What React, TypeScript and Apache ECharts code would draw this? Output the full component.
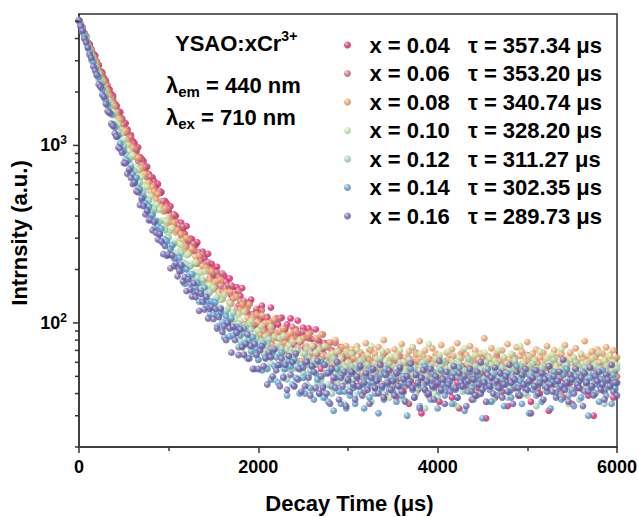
import React, { useEffect, useRef } from 'react';
import * as echarts from 'echarts';

const FONT = "'Liberation Sans', Arial, Helvetica, sans-serif";
const AXIS = '#333333';
const TIME_STEP_US = 20; // sampling interval of the decay curves (0 … 6000 µs)

const GAP = '\u00a0\u00a0\u00a0';
const seriesNames = [
  `x = 0.04${GAP}τ = 357.34 μs`,
  `x = 0.06${GAP}τ = 353.20 μs`,
  `x = 0.08${GAP}τ = 340.74 μs`,
  `x = 0.10${GAP}τ = 328.20 μs`,
  `x = 0.12${GAP}τ = 311.27 μs`,
  `x = 0.14${GAP}τ = 302.35 μs`,
  `x = 0.16${GAP}τ = 289.73 μs`,
];
const seriesColors = ['#e8246e', '#d1717f', '#f5a46a', '#c6e6a8', '#9fd6bc', '#5c9fd2', '#7664b4'];

// intensity (a.u.), one value every 20 µs from 0 to 6000 µs
const x004 = [
  5068,4731,4613,4292,4115,3791,3715,3489,3270,3217,2950,2829,2616,
  2578,2389,2309,2083,2069,1950,1901,1716,1675,1558,1539,1418,
  1323,1335,1232,1132,1140,1055,1028,921,975,859,839,816,734,
  759,689,640,659,626,574,607,539,545,469,486,471,
  429,454,392,409,401,368,330,367,338,316,351,287,298,
  296,256,275,284,248,232,252,231,203,245,205,215,
  184,199,207,175,187,150,184,170,157,178,143,159,145,
  159,125,142,157,124,129,114,131,135,112,97,118,
  119,105,125,93,106,108,93,122,95,87,106,98,88,
  107,78,92,98,81,106,86,75,92,103,78,87,
  94,73,83,93,64,81,72,92,66,79,55,71,77,
  63,77,55,70,47,64,69,53,73,57,63,47,
  58,49,61,53,44,56,60,47,52,41,55,63,46,50,57,43,51,48,59,45,54,39,50,47,56,
  44,52,38,49,55,46,41,58,50,35,47,53,44,60,42,49,31,54,46,51,39,57,48,43,52,45,36,50,55,41,
  47,62,44,38,53,49,46,33,51,57,42,48,45,54,37,50,59,43,47,40,52,46,29,55,48,44,51,38,56,45,
  49,41,53,47,34,58,46,50,43,52,39,48,55,45,42,61,47,36,51,44,49,53,40,46,57,43,50,32,54,47,
  45,52,41,49,56,38,48,44,53,46,35,51,59,43,47,50,42,55,45,39,52,48,30,54,46,50,43,57,41,49,
  47,53,44,38,51,46,
];
const x006 = [
  5011,4837,4439,4302,4135,3792,3643,3349,3300,3085,2899,2843,2566,
  2503,2290,2232,2179,1972,1846,1827,1698,1537,1543,1428,1404,
  1302,1181,1199,1110,1109,984,970,948,816,844,780,775,752,
  659,663,666,590,598,522,535,554,485,485,427,454,
  439,389,385,406,337,357,353,310,349,302,270,292,291,
  255,279,253,215,250,224,244,204,216,219,181,200,
  190,159,193,181,162,190,147,156,163,131,163,138,143,
  120,152,133,117,133,98,123,128,108,111,97,120,
  110,95,118,85,99,106,86,97,75,103,88,82,106,
  77,90,94,69,85,79,95,70,84,87,61,79,
  89,72,64,82,88,67,74,58,80,74,62,86,66,
  73,56,77,67,59,77,62,70,51,65,71,56,
  64,53,60,68,55,49,62,57,66,51,59,54,70,47,58,63,52,56,61,45,67,55,50,60,57,
  52,61,47,56,65,50,58,44,55,63,49,57,53,68,46,54,60,51,42,58,55,62,48,53,66,50,57,45,59,54,
  61,47,52,64,56,43,55,50,67,53,48,58,51,62,46,56,54,39,59,52,63,49,55,57,44,60,51,53,65,48,
  54,58,46,61,50,55,42,57,63,52,49,56,59,45,53,66,51,47,58,54,60,43,55,52,48,62,56,50,57,46,
  53,64,49,55,41,58,52,60,47,56,54,63,50,45,57,52,59,48,55,61,44,53,58,51,67,49,56,46,54,60,
  52,57,48,55,62,50,
];
const x008 = [
  5097,4750,4532,4155,4065,3801,3523,3441,3155,3004,2921,2625,2547,
  2371,2305,2087,2037,1907,1730,1726,1656,1488,1423,1385,1230,
  1219,1201,1075,1000,994,966,871,855,851,725,747,691,690,
  612,616,550,581,550,500,532,450,452,426,440,363,
  392,371,335,368,324,333,282,317,292,265,301,249,250,
  261,215,236,218,239,196,209,172,205,196,175,195,
  154,169,172,149,175,136,148,149,120,150,128,137,115,
  140,115,119,127,98,118,107,127,97,107,85,112,
  101,86,110,90,100,75,100,90,81,105,74,88,90,
  75,93,77,84,61,87,81,66,90,73,81,61,
  82,67,74,86,60,74,63,82,69,61,86,65,74,
  55,74,78,62,68,80,55,70,62,73,57,74,
  66,58,71,63,55,74,60,68,52,65,77,59,62,70,54,67,61,73,57,64,80,56,69,62,59,
  63,71,55,67,60,76,58,64,52,69,62,73,57,66,61,79,54,65,70,59,63,56,72,61,67,53,64,75,60,58,
  68,62,55,71,65,59,77,57,63,69,51,66,61,74,58,64,70,56,62,67,60,82,55,65,59,72,63,57,68,61,
  54,70,64,59,76,62,57,66,60,73,55,65,69,58,63,78,61,56,67,62,71,59,64,53,68,60,74,57,65,62,
  70,58,63,55,67,61,75,59,64,68,56,62,72,60,57,66,63,79,55,65,61,69,58,64,71,60,54,67,62,73,
  59,66,61,70,57,64,
];
const x010 = [
  5019,4811,4409,4206,4022,3630,3508,3253,3117,2796,2734,2549,2352,
  2308,2089,1995,1815,1789,1666,1516,1524,1361,1312,1163,1170,
  1069,986,1004,933,854,880,750,755,728,653,668,598,582,
  586,500,520,478,428,464,435,435,378,378,339,375,
  322,334,342,282,291,255,279,275,247,214,241,243,209,
  216,193,219,193,168,192,169,195,151,163,163,131,
  158,137,118,143,135,117,143,115,120,129,99,115,105,
  90,112,103,91,115,93,82,99,103,82,87,68,
  91,79,96,69,84,78,70,95,71,84,59,76,82,
  66,85,61,71,75,55,78,64,70,55,79,58,
  67,50,71,64,56,74,59,68,49,71,61,51,74,
  55,65,44,67,60,53,69,50,63,57,47,69,
  60,52,67,48,58,71,55,44,62,57,50,66,53,74,47,59,63,41,56,69,51,61,54,38,65,
  57,49,64,53,70,45,60,55,36,62,58,73,50,56,43,67,59,52,61,47,76,54,58,40,63,51,66,57,48,60,
  55,69,44,61,53,58,34,64,56,50,72,47,59,62,54,41,66,57,52,60,45,68,55,49,63,58,37,61,53,70,
  56,48,64,51,59,43,67,55,62,50,57,74,46,60,53,39,65,58,51,61,55,47,69,54,57,42,63,59,50,66,
  52,56,45,61,71,54,58,48,35,62,55,64,51,57,44,67,59,53,60,46,56,63,41,58,52,68,55,49,61,57,
  43,65,54,60,50,58,
];
const x012 = [
  5061,4659,4501,4103,3899,3612,3309,3205,3038,2727,2601,2350,2310,
  2088,1999,1901,1681,1651,1511,1482,1301,1249,1196,1040,1036,
  998,896,826,831,777,685,719,667,608,619,539,547,501,
  458,492,447,412,441,364,372,371,335,299,333,304,
  303,256,277,279,240,247,205,250,219,203,214,181,209,
  180,187,152,180,167,147,175,143,129,145,149,123,
  127,112,139,112,122,94,113,117,95,103,84,114,87,
  96,99,79,87,67,95,81,74,92,67,78,82,
  62,75,78,67,56,74,81,59,66,48,72,67,58,
  72,55,60,48,65,68,55,44,61,70,49,58,
  53,67,45,58,54,42,61,58,46,62,48,38,58,
  60,45,54,40,63,52,46,57,41,54,35,56,
  52,44,57,48,39,55,50,61,46,42,53,58,47,36,51,56,44,49,63,45,40,54,48,59,43,
  50,46,55,41,58,49,37,53,47,62,44,51,56,40,48,54,45,60,33,50,47,57,43,52,49,38,55,46,61,42,
  51,48,56,44,35,53,50,59,46,41,54,49,63,45,52,39,57,47,50,55,43,48,60,46,36,53,51,44,58,49,
  42,56,47,52,38,54,50,45,61,48,43,57,49,53,40,55,46,51,59,44,34,52,48,56,45,50,41,57,47,53,
  62,46,49,39,55,51,44,58,48,42,53,47,60,45,37,54,50,56,43,49,52,46,40,57,48,55,44,51,35,53,
  47,58,45,50,42,55,
];
const x014 = [
  5026,4764,4324,4129,3893,3526,3329,3021,2940,2718,2476,2420,2180,
  2074,1853,1791,1697,1529,1498,1316,1266,1120,1132,1023,933,
  930,833,818,718,741,687,622,655,574,563,492,515,471,
  430,453,405,404,342,377,349,317,341,281,294,288,
  242,262,273,231,232,206,232,196,207,166,200,183,166,
  188,151,158,168,132,152,136,158,123,133,112,132,
  111,130,96,112,115,101,83,109,101,84,106,85,93,
  95,73,85,74,93,77,63,80,69,83,55,72,
  62,73,54,77,64,55,65,48,69,57,64,46,58,
  68,50,55,39,61,57,45,62,49,56,40,58,
  49,40,61,51,43,57,37,52,48,40,60,44,38,
  52,36,53,44,32,49,55,41,35,51,41,33,
  47,39,52,43,35,49,56,41,45,33,50,44,38,54,46,40,48,31,51,43,37,55,45,42,49,
  41,48,36,53,44,39,50,46,30,47,55,42,38,51,45,34,49,43,57,40,46,37,52,44,48,33,41,54,45,39,
  50,43,47,35,52,42,38,56,44,49,32,46,41,53,43,37,48,45,51,40,29,47,44,55,42,36,50,46,39,53,
  43,48,34,45,52,41,38,49,44,57,40,47,35,51,43,46,31,50,42,54,39,45,48,36,52,44,41,49,33,46,
  53,40,47,43,37,51,45,55,39,48,42,34,50,44,47,38,53,41,46,30,49,43,52,40,45,36,48,54,42,39,
  47,44,35,51,43,46,
];
const x016 = [
  5083,4667,4425,3991,3789,3556,3234,3112,2780,2635,2497,2204,2135,
  1932,1879,1710,1558,1527,1324,1286,1168,1121,973,954,908,
  796,793,692,731,656,605,617,552,544,462,504,456,409,
  427,379,380,332,370,322,295,316,287,244,271,239,
  243,203,240,209,216,183,196,212,171,181,151,176,154,
  141,167,140,149,117,146,131,119,140,106,120,123,
  105,120,93,108,120,89,96,80,100,93,68,95,80,
  88,66,92,73,66,76,86,63,74,55,76,66,
  55,70,74,57,63,45,68,64,50,71,54,58,44,
  63,49,58,42,65,51,60,44,67,48,55,41,
  56,44,60,49,39,57,53,43,61,40,50,43,58,
  40,52,35,55,49,43,60,37,49,44,53,34,
  48,41,53,45,37,50,44,57,39,46,52,42,35,49,55,43,47,40,58,44,38,51,46,54,42,
  47,39,52,44,56,41,48,36,50,45,59,43,38,51,46,33,49,54,42,47,40,55,44,37,50,46,61,42,48,35,
  53,45,41,49,57,43,38,52,46,44,50,34,47,55,41,48,39,53,45,60,42,46,36,51,44,49,40,56,47,43,
  52,38,45,50,41,58,46,35,48,53,43,39,51,45,55,42,47,31,49,44,54,40,46,52,37,48,43,57,45,41,
  50,38,47,53,44,62,42,46,36,51,48,40,55,45,43,49,34,52,46,41,56,44,39,50,47,53,42,45,37,51,
  48,44,58,41,46,39,
];
const seriesValues = [x004, x006, x008, x010, x012, x014, x016];

const xTicks = { min: 0, max: 6000, interval: 2000 };
const yRange = { min: 20, max: 5500 };
const yMajorTicks = [100, 1000];
const yMinorTicks = [20, 30, 40, 50, 60, 70, 80, 90, 200, 300, 400, 500, 600, 700, 800, 900, 2000, 3000, 4000, 5000];

function mix(hex: string, target: string, t: number): string {
  const a = parseInt(hex.slice(1), 16);
  const b = parseInt(target.slice(1), 16);
  const ch = (v: number, s: number) => (v >> s) & 255;
  const m = (s: number) => Math.round(ch(a, s) * (1 - t) + ch(b, s) * t);
  return `rgb(${m(16)},${m(8)},${m(0)})`;
}

function sphere(c: string) {
  return new echarts.graphic.RadialGradient(0.35, 0.32, 0.7, [
    { offset: 0, color: mix(c, '#ffffff', 0.7) },
    { offset: 0.45, color: c },
    { offset: 1, color: mix(c, '#000000', 0.22) },
  ]);
}

export default function App() {
  const ref = useRef<HTMLDivElement>(null);

  useEffect(() => {
    if (!ref.current) return;
    const chart = echarts.init(ref.current, undefined, { renderer: 'svg' });

    const scatter = seriesValues.map((vals, k) => ({
      type: 'scatter',
      name: seriesNames[k],
      symbol: 'circle',
      symbolSize: 6.8,
      progressive: 0,
      itemStyle: { color: sphere(seriesColors[k]) },
      data: vals.map((v, i) => [i * TIME_STEP_US, v]),
      z: 3,
    }));

    const tickSeries = {
      type: 'custom',
      name: 'yTicks',
      silent: true,
      clip: false,
      z: 4,
      encode: { x: 0, y: 1 },
      data: [
        ...yMajorTicks.map((v) => [0, v, 6]),
        ...yMinorTicks.map((v) => [0, v, 4]),
      ],
      renderItem: (_params: any, api: any) => {
        const p = api.coord([api.value(0), api.value(1)]);
        const len = api.value(2);
        return {
          type: 'line',
          shape: { x1: p[0] - len, y1: p[1], x2: p[0], y2: p[1] },
          style: { stroke: AXIS, lineWidth: 1.5 },
        };
      },
    };

    const bold = { fontFamily: FONT, fontWeight: 'bold', color: '#000' };

    const option: any = {
      animation: false,
      backgroundColor: '#ffffff',
      grid: {
        left: 79, right: 21, top: 14, bottom: 70,
        containLabel: false, outerBoundsMode: 'none',
        show: true, borderColor: AXIS, borderWidth: 1.5, backgroundColor: 'transparent',
      },
      legend: {
        data: seriesNames,
        orient: 'vertical',
        left: 339,
        top: 29,
        itemWidth: 34,
        itemHeight: 7,
        itemGap: 6.5,
        icon: 'circle',
        selectedMode: false,
        textStyle: { ...bold, fontSize: 22, lineHeight: 22 },
      },
      xAxis: {
        type: 'value',
        min: xTicks.min,
        max: xTicks.max,
        interval: xTicks.interval,
        axisLine: { show: true, onZero: false, lineStyle: { color: AXIS, width: 1.5 } },
        axisTick: { show: true, length: 6, lineStyle: { color: AXIS, width: 1.5 } },
        minorTick: { show: true, splitNumber: 2, length: 4, lineStyle: { color: AXIS, width: 1.5 } },
        splitLine: { show: false },
        minorSplitLine: { show: false },
        axisLabel: { ...bold, fontSize: 18, margin: 11, formatter: (v: number) => String(v) },
      },
      yAxis: {
        type: 'log',
        logBase: 10,
        min: yRange.min,
        max: yRange.max,
        axisLine: { show: true, onZero: false, lineStyle: { color: AXIS, width: 1.5 } },
        axisTick: { show: false },
        minorTick: { show: false },
        splitLine: { show: false },
        axisLabel: {
          margin: 12,
          formatter: (v: number) => {
            for (const m of yMajorTicks) {
              if (Math.abs(v - m) < 1e-6 * m) return `{b|10}{s|${Math.round(Math.log10(m))}}`;
            }
            return '';
          },
          rich: {
            b: { ...bold, fontSize: 18, lineHeight: 22 },
            s: { ...bold, fontSize: 12, lineHeight: 12, verticalAlign: 'top' },
          },
        },
      },
      graphic: [
        {
          type: 'text', x: 175, y: 43, silent: true,
          style: {
            text: '{a|YSAO:xCr}{s|3+}',
            align: 'left', verticalAlign: 'middle',
            rich: {
              a: { fontFamily: FONT, fontWeight: 'bold', fontSize: 22, lineHeight: 28, fill: '#000' },
              s: { fontFamily: FONT, fontWeight: 'bold', fontSize: 14, lineHeight: 14, verticalAlign: 'top', fill: '#000' },
            },
          },
        },
        ...[
          { sub: 'em', val: ' = 440 nm', y: 85 },
          { sub: 'ex', val: ' = 710 nm', y: 117 },
        ].map((l) => ({
          type: 'text', x: 166, y: l.y, silent: true,
          style: {
            text: `{a|λ}{s|${l.sub}}{a|${l.val}}`,
            align: 'left', verticalAlign: 'middle',
            rich: {
              a: { fontFamily: FONT, fontWeight: 'bold', fontSize: 22, lineHeight: 28, fill: '#000' },
              s: { fontFamily: FONT, fontWeight: 'bold', fontSize: 15, lineHeight: 15, verticalAlign: 'bottom', fill: '#000' },
            },
          },
        })),
        {
          type: 'text', x: 349.5, y: 503, silent: true,
          style: { text: 'Decay Time (μs)', align: 'center', verticalAlign: 'middle', fontFamily: FONT, fontWeight: 'bold', fontSize: 22, fill: '#000' },
        },
        {
          type: 'text', x: 19.5, y: 233, rotation: Math.PI / 2, silent: true,
          style: { text: 'Intrnsity (a.u.)', align: 'center', verticalAlign: 'middle', fontFamily: FONT, fontWeight: 'bold', fontSize: 22, fill: '#000' },
        },
      ],
      series: [...scatter, tickSeries],
    };

    chart.setOption(option);
    return () => chart.dispose();
  }, []);

  return <div ref={ref} style={{ position: 'absolute', left: 0, top: 0, width: 638, height: 517 }} />;
}
